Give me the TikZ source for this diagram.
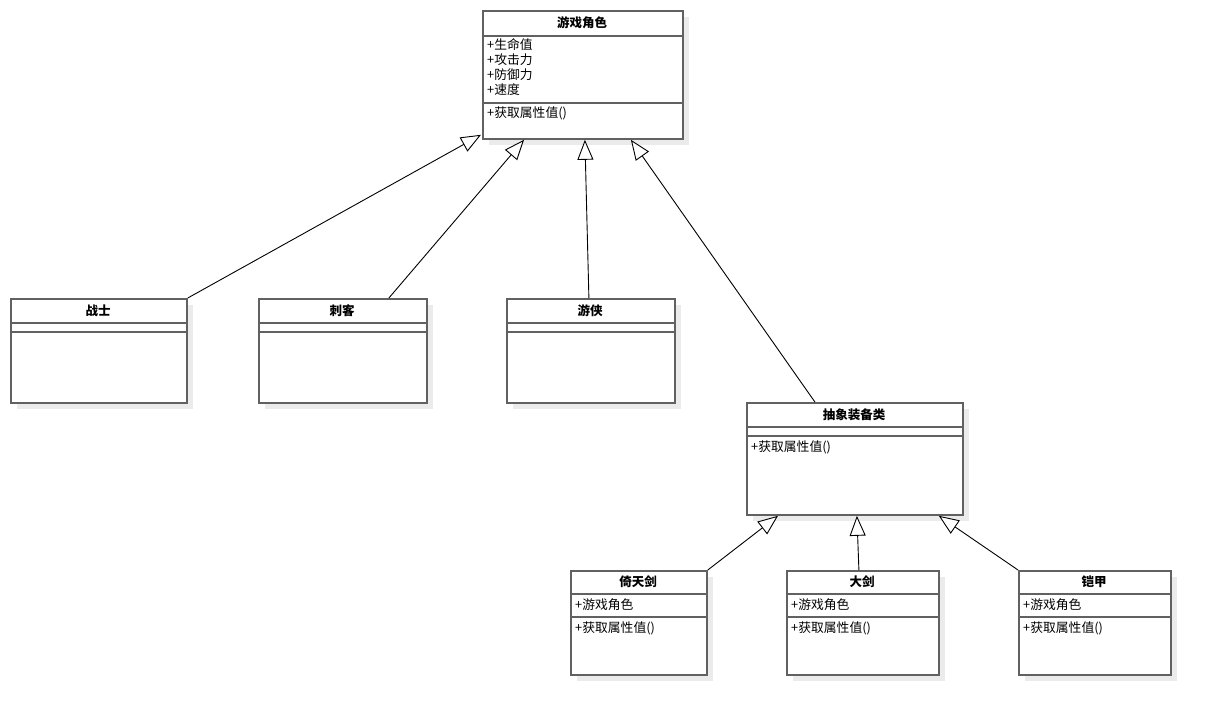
\documentclass[tikz,border=0pt]{standalone}
\usepackage{fontspec}
\setmainfont{Noto Sans CJK SC}
\usetikzlibrary{arrows.meta,shadows,calc}
\begin{document}
\begin{tikzpicture}[x=1pt,y=-1pt,
  umlbox/.style={draw=black!62, line width=1.8pt, fill=white, anchor=north west, inner sep=0pt,
    general shadow={fill=black!8, shadow xshift=6pt, shadow yshift=-6pt}},
  sep/.style={draw=black!62, line width=1.8pt},
  ttl/.style={font=\fontsize{12.5}{15}\selectfont\bfseries, inner sep=0pt},
  itm/.style={font=\fontsize{12.8}{15}\selectfont, inner sep=0pt, anchor=west},
  inh/.style={draw=black, line width=0.9pt, -{Triangle[open, length=20pt, width=16pt, fill=white]}}]
\useasboundingbox (0,0) rectangle (1210,714);

% 游戏角色
\node[umlbox, minimum width=200pt, minimum height=128pt] (role) at (482,10) {};
\draw[sep] (482,36) -- (682,36);
\draw[sep] (482,103) -- (682,103);
\node[ttl] (roleT) at (582,23) {游戏角色};
\node[itm] (roleA1) at (487,45) {+生命值};
\node[itm] (roleA2) at (487,60) {+攻击力};
\node[itm] (roleA3) at (487,75) {+防御力};
\node[itm] (roleA4) at (487,90) {+速度};
\node[itm] (roleM) at (487,113) {+获取属性值()};

% 战士
\node[umlbox, minimum width=176pt, minimum height=104pt] (war) at (10,298) {};
\draw[sep] (10,323) -- (186,323);
\draw[sep] (10,332) -- (186,332);
\node[ttl] (warT) at (98,310.5) {战士};

% 刺客
\node[umlbox, minimum width=168pt, minimum height=104pt] (ass) at (258,298) {};
\draw[sep] (258,323) -- (426,323);
\draw[sep] (258,332) -- (426,332);
\node[ttl] (assT) at (342,310.5) {刺客};

% 游侠
\node[umlbox, minimum width=168pt, minimum height=104pt] (ran) at (506,298) {};
\draw[sep] (506,323) -- (674,323);
\draw[sep] (506,332) -- (674,332);
\node[ttl] (ranT) at (590,310.5) {游侠};

% 抽象装备类
\node[umlbox, minimum width=216pt, minimum height=112pt] (eq) at (746,402) {};
\draw[sep] (746,427) -- (962,427);
\draw[sep] (746,436) -- (962,436);
\node[ttl] (eqT) at (854,414.5) {抽象装备类};
\node[itm] (eqM) at (751,447) {+获取属性值()};

% 倚天剑
\node[umlbox, minimum width=136pt, minimum height=104pt] (yt) at (570,570) {};
\draw[sep] (570,594) -- (706,594);
\draw[sep] (570,617) -- (706,617);
\node[ttl] (ytT) at (638,582) {倚天剑};
\node[itm] (ytA) at (575,605) {+游戏角色};
\node[itm] (ytM) at (575,628) {+获取属性值()};

% 大剑
\node[umlbox, minimum width=152pt, minimum height=104pt] (dj) at (786,570) {};
\draw[sep] (786,594) -- (938,594);
\draw[sep] (786,617) -- (938,617);
\node[ttl] (djT) at (862,582) {大剑};
\node[itm] (djA) at (791,605) {+游戏角色};
\node[itm] (djM) at (791,628) {+获取属性值()};

% 铠甲
\node[umlbox, minimum width=152pt, minimum height=104pt] (kj) at (1018,570) {};
\draw[sep] (1018,594) -- (1170,594);
\draw[sep] (1018,617) -- (1170,617);
\node[ttl] (kjT) at (1094,582) {铠甲};
\node[itm] (kjA) at (1023,605) {+游戏角色};
\node[itm] (kjM) at (1023,628) {+获取属性值()};

% inheritance
\draw[inh] (war.north east) -- ($(role.south west)+(-1,-5)$);
\draw[inh] ($(ass.north)+(46,0)$) -- ($(role.south west)+(42,0)$);
\draw[inh] ($(ran.north)+(-2,0)$) -- ($(role.south)+(2,0)$);
\draw[inh] ($(eq.north)+(-40,0)$) -- ($(role.south)+(48,0)$);
\draw[inh] (yt.north east) -- ($(eq.south west)+(32,0)$);
\draw[inh] ($(dj.north)+(-4,0)$) -- ($(eq.south)+(2,0)$);
\draw[inh] (kj.north west) -- ($(eq.south east)+(-25,0)$);
\end{tikzpicture}
\end{document}
